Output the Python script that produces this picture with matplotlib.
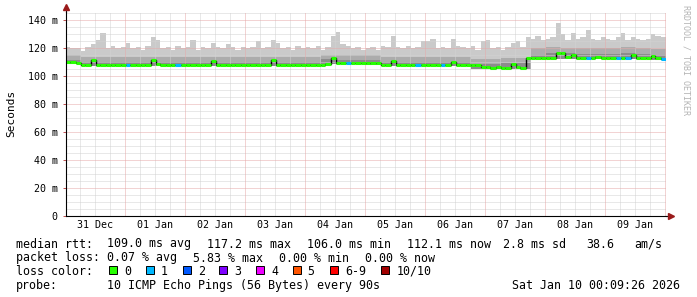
import numpy as np
import matplotlib
matplotlib.use("Agg")
import matplotlib.pyplot as plt
import matplotlib.dates as mdates
from matplotlib.patches import Rectangle

# ── Data ──────────────────────────────────────────────────────────────────────
START = np.datetime64("2025-12-31T00:09:26")

# median rtt in ms, one value per 2 hours (12 per day, 31 Dec .. 09 Jan)
median_ms = [
    110.2, 110.0, 109.4, 108.0, 108.0, 111.5, 108.2, 108.0, 108.0, 108.3, 108.0, 108.0,
    108.0, 108.2, 108.0, 108.0, 108.0, 111.5, 108.5, 108.0, 108.0, 108.0, 108.0, 108.0,
    108.0, 108.0, 108.0, 108.0, 108.0, 111.0, 108.0, 108.2, 108.0, 108.0, 108.0, 108.0,
    107.8, 107.8, 107.8, 107.8, 107.8, 111.5, 108.3, 107.8, 107.8, 107.8, 107.8, 107.8,
    107.8, 107.8, 107.8, 107.8, 108.5, 113.0, 109.5, 109.3, 109.3, 109.3, 109.3, 109.3,
    109.3, 109.3, 109.2, 108.0, 108.0, 110.8, 108.0, 108.0, 107.8, 107.8, 107.8, 107.8,
    107.8, 107.8, 107.8, 107.8, 107.8, 110.5, 108.0, 107.8, 107.8, 107.8, 107.8, 106.6,
    106.3, 106.2, 106.4, 106.2, 106.2, 109.0, 106.5, 106.2, 113.0, 113.0, 112.8, 112.8,
    112.8, 112.8, 116.8, 116.5, 113.5, 115.0, 113.0, 113.0, 113.2, 113.3, 113.5, 113.3,
    113.0, 112.8, 112.8, 113.0, 113.0, 115.5, 113.0, 112.8, 112.8, 114.5, 113.0, 112.3,
]

# loss (pings out of 10) for each 2 hour bin
loss = [
    0, 0, 0, 0, 0, 0, 0, 0, 0, 0, 0, 0,
    1, 0, 0, 0, 0, 0, 0, 0, 0, 0, 1, 0,
    0, 0, 0, 0, 0, 0, 0, 0, 0, 0, 0, 0,
    0, 0, 0, 0, 0, 0, 0, 0, 0, 0, 0, 0,
    0, 0, 0, 0, 0, 0, 0, 0, 1, 0, 0, 0,
    0, 0, 0, 0, 0, 0, 0, 0, 0, 0, 1, 0,
    0, 0, 0, 1, 0, 0, 0, 0, 0, 0, 0, 0,
    0, 0, 0, 0, 0, 0, 0, 0, 0, 0, 0, 0,
    0, 0, 0, 0, 0, 0, 0, 0, 1, 0, 0, 0,
    0, 0, 1, 0, 1, 0, 0, 0, 0, 0, 0, 1,
]

# highest ping (top of the light smoke), 2 hour bins
smoke_max = [
    121, 120, 120, 118, 121, 123, 126, 131, 120, 122, 120, 121,
    124, 120, 121, 119, 122, 128, 126, 120, 121, 119, 122, 120,
    121, 126, 119, 121, 120, 124, 121, 120, 123, 121, 119, 121,
    120, 121, 125, 120, 121, 126, 124, 120, 121, 119, 122, 120,
    121, 120, 122, 119, 121, 129, 132, 123, 122, 120, 121, 119,
    120, 121, 119, 122, 121, 129, 121, 120, 122, 120, 121, 125,
    125, 127, 120, 121, 120, 127, 122, 121, 120, 122, 119, 125,
    126, 120, 121, 119, 121, 124, 125, 121, 128, 127, 129, 126,
    127, 128, 138, 130, 126, 131, 127, 128, 133, 127, 126, 128,
    127, 126, 128, 131, 126, 128, 127, 126, 127, 130, 129, 128,
]

# inner smoke bands, one value per 6 hours
smoke_lo = [
    109.0, 107.0, 107.0, 107.0,
    107.0, 107.0, 107.0, 107.0,
    107.0, 107.0, 107.0, 107.0,
    107.0, 107.0, 107.0, 107.0,
    107.0, 108.5, 108.5, 108.5,
    108.0, 107.0, 107.0, 107.0,
    107.0, 107.0, 107.0, 105.5,
    105.5, 105.5, 105.5, 112.0,
    112.0, 112.0, 112.0, 112.0,
    112.0, 112.0, 112.0, 111.5,
]
smoke_mid = [
    111.5, 110.0, 110.0, 110.0,
    110.0, 110.5, 110.0, 110.0,
    110.0, 110.5, 110.0, 110.0,
    110.0, 110.5, 110.0, 110.0,
    110.0, 112.0, 111.5, 111.5,
    111.5, 110.5, 110.0, 110.0,
    110.0, 110.5, 110.0, 109.0,
    108.5, 109.5, 109.5, 115.5,
    117.0, 116.5, 116.0, 116.0,
    116.0, 117.0, 116.0, 115.5,
]
smoke_hi = [
    115.0, 114.0, 113.5, 113.5,
    113.5, 114.0, 113.5, 113.5,
    113.5, 114.0, 113.5, 113.5,
    113.5, 114.0, 113.5, 113.5,
    113.5, 115.5, 115.0, 115.0,
    115.0, 114.0, 113.5, 113.5,
    113.5, 114.0, 113.5, 112.5,
    112.0, 113.0, 113.0, 120.0,
    121.0, 120.5, 120.0, 120.0,
    120.0, 121.0, 120.0, 119.5,
]

y_ticks  = [0, 20, 40, 60, 80, 100, 120, 140]
y_labels = ["0", "20 m", "40 m", "60 m", "80 m", "100 m", "120 m", "140 m"]

LOSS_COLORS = ["#26ff00", "#00b8ff", "#0059ff", "#7e00ff", "#ee00ff",
               "#ff5500", "#ff0000", "#a10000"]
LOSS_NAMES  = ["0", "1", "2", "3", "4", "5", "6-9", "10/10"]

MONO = "DejaVu Sans Mono"

# ── Figure ────────────────────────────────────────────────────────────────────
W, H = 697, 297
fig = plt.figure(figsize=(W / 100, H / 100), dpi=100, facecolor="white")
ax = fig.add_axes([65.5 / W, (H - 215.5) / H, 600 / W, 203.4 / H])

edges2 = mdates.date2num(START + np.arange(len(median_ms) + 1) * np.timedelta64(2, "h"))
edges6 = mdates.date2num(START + np.arange(len(smoke_hi) + 1) * np.timedelta64(6, "h"))
x0, x1 = edges2[0], edges2[-1]

# smoke
ax.stairs(smoke_max, edges2, baseline=median_ms, fill=True, color="#cacaca", lw=0, zorder=1)
ax.stairs(smoke_hi, edges6, baseline=smoke_lo, fill=True, color="#acacac", lw=0, zorder=1.1)
ax.stairs(smoke_mid, edges6, baseline=smoke_lo, fill=True, color="#8c8c8c", lw=0, zorder=1.2)

# grid (on top of smoke, like rrdtool)
day0 = mdates.date2num(np.datetime64("2025-12-31T00:00"))
minor_col = "#d2d2d2"
major_col = "#e6a9a9"
for k in range(1, 41):
    xv = day0 + k * 0.25
    if x0 < xv < x1 and k % 4:
        ax.axvline(xv, color=minor_col, lw=0.72, ls=(0, (1, 1)), zorder=2)
for yv in range(5, 150, 5):
    if yv % 20:
        ax.axhline(yv, color=minor_col, lw=0.72, ls=(0, (1, 1)), zorder=2)
for k in range(1, 11):
    ax.axvline(day0 + k, color=major_col, lw=0.72, ls=(0, (1, 1)), zorder=2.1)
for yv in y_ticks[1:]:
    ax.axhline(yv, color=major_col, lw=0.72, ls=(0, (1, 1)), zorder=2.1)

# median line: black steps, loss-coloured flats
ax.stairs(median_ms, edges2, baseline=None, color="black", lw=1.0, zorder=3)
ax.hlines(median_ms, edges2[:-1], edges2[1:],
          colors=[LOSS_COLORS[l] for l in loss], lw=2.2, zorder=4)

ax.set_xlim(x0, x1)
ax.set_ylim(0, 146)

# axes cosmetics
for s in ("top", "right"):
    ax.spines[s].set_visible(False)
for s in ("left", "bottom"):
    ax.spines[s].set_color("black")
    ax.spines[s].set_linewidth(0.8)
    ax.spines[s].set_zorder(5)

ax.set_yticks(y_ticks)
ax.set_yticklabels(y_labels, fontsize=7.2, family=MONO)
noons = mdates.date2num(np.datetime64("2025-12-31T12:00") + np.arange(10) * np.timedelta64(24, "h"))
ax.set_xticks(noons)
ax.xaxis.set_major_formatter(mdates.DateFormatter("%d %b"))
ax.tick_params(axis="x", length=0, pad=3.5, labelsize=7.2)
ax.tick_params(axis="y", length=2, width=0.7, color="#c05050", pad=3.5)
for lab in ax.get_xticklabels():
    lab.set_family(MONO)

# axis extension + arrows
ARROW = "#9a1a1a"
ax.plot([0, 0], [1, 1.02], transform=ax.transAxes, color="black", lw=0.8, clip_on=False, zorder=5)
ax.plot([0], [1.025], marker="^", ms=4, color=ARROW, transform=ax.transAxes, clip_on=False, zorder=6)
ax.plot([1, 1.006], [0, 0], transform=ax.transAxes, color="black", lw=0.8, clip_on=False, zorder=5)
ax.plot([1.009], [0], marker=">", ms=4, color=ARROW, transform=ax.transAxes, clip_on=False, zorder=6)

fig.text(11 / W, 1 - 113.5 / H, "Seconds", rotation=90, family=MONO, fontsize=8,
         ha="center", va="center")
fig.text(686 / W, 1 - 5 / H, "RRDTOOL / TOBI OETIKER", rotation=270, family=MONO,
         fontsize=6, color="#b4b4b4", ha="center", va="top")

# ── Legend block ──────────────────────────────────────────────────────────────
def put(xpx, ypx, s, **kw):
    fig.text(xpx / W, 1 - ypx / H, s, family=MONO, fontsize=8.4,
             va="center_baseline", **kw)

r1, r2, r3, r4 = 242.5, 256.5, 270.0, 284.0
put(16, r1, "median rtt:")
for xp, s in [(107.3, "109.0 ms avg"), (207.3, "117.2 ms max"), (307.3, "106.0 ms min"),
              (407.0, "112.1 ms now"), (502.7, "2.8 ms sd"), (586.3, "38.6"),
              (634.3, "am/s")]:
    put(xp, r1, s)

put(16, r2, "packet loss:")
for xp, s in [(107.3, "0.07 % avg"), (193.3, "5.83 % max"), (279.3, "0.00 % min"),
              (365.3, "0.00 % now")]:
    put(xp, r2, s)

put(16, r3, "loss color:")
box_x = [109.0, 145.7, 182.7, 219.3, 256.0, 292.7, 330.0, 381.3]
for bx, col, name in zip(box_x, LOSS_COLORS, LOSS_NAMES):
    fig.patches.append(Rectangle((bx / W, 1 - (r3 + 3.5) / H), 8 / W, 8 / H,
                                 transform=fig.transFigure, facecolor=col,
                                 edgecolor="black", lw=0.7))
    put(bx + 15, r3, name)

put(16, r4, "probe:")
put(107.3, r4, "10 ICMP Echo Pings (56 Bytes) every 90s")
put(680, r4, "Sat Jan 10 00:09:26 2026", ha="right")

fig.savefig("out.png", dpi=100, facecolor="white")
